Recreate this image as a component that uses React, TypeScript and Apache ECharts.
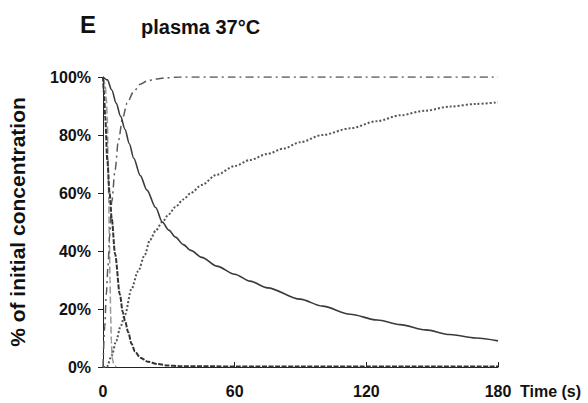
import React, { useEffect, useRef } from "react";
import * as echarts from "echarts";

// Time (s) and % of initial concentration
const fastDecayT = [0, 0.5, 1, 1.5, 2, 2.3, 2.6, 2.9, 3.2, 3.5, 3.8, 4.2, 5, 6];
const fastDecayV = [100, 99, 97, 93, 85, 72, 58, 44, 30, 18, 9, 3, 0.8, 0];

const midDecayT = [0, 0.5, 1, 2, 3, 4, 5.5, 7.7, 9, 10, 11.5, 13, 14.6, 17, 20.6, 25, 29.6, 35, 60, 90, 120, 150, 180];
const midDecayV = [100, 94, 86, 71, 60, 51, 39, 25, 19, 16, 12, 8, 5.3, 3.2, 1.8, 1, 0.5, 0.3, 0.2, 0.2, 0.2, 0.2, 0.2];

const fastRiseT = [0, 0.8, 1.5, 2.3, 3, 4, 5.5, 7, 9, 11, 14, 17, 20, 24, 28, 35, 60, 90, 120, 150, 180];
const fastRiseV = [0, 14, 25, 35, 45, 57, 68, 78, 86, 91, 95, 97.5, 98.6, 99.3, 99.7, 100, 100, 100, 100, 100, 100];

const slowDecayT = [0, 2, 4, 6, 8, 10, 12, 14, 17, 20, 24, 27, 30, 33, 36.6, 40, 45, 51.8, 60, 67, 75, 89.8, 100, 112.6, 125, 135.4, 147, 158, 170, 180];
const slowDecayV = [100, 99, 95.5, 91, 86.5, 82, 77, 72, 66, 61, 55, 50, 47.2, 44.8, 42.2, 40.2, 37.8, 34.8, 32, 29.6, 27.3, 23.4, 21, 18.2, 16.2, 14.6, 12.8, 11.2, 10, 9];

const slowRiseT = [0, 1.7, 4, 6, 8, 10, 13, 16, 19, 21.4, 24, 27, 30, 33, 36.6, 40, 45, 51.8, 60, 67, 75, 82.2, 89.8, 100, 112.6, 125, 135.4, 147, 158, 170, 180];
const slowRiseV = [0, 0, 4, 9, 14, 18, 27, 33, 38.6, 43.8, 47, 50, 52.7, 55.2, 57.8, 60, 62.8, 66.3, 69.3, 71.4, 73.5, 75.3, 77.5, 80, 82.3, 84.8, 86.8, 88.4, 89.8, 90.7, 91.3];

const xTicks = [0, 60, 120, 180];
const yTicks = [0, 20, 40, 60, 80, 100];

const pairs = (t: number[], v: number[]) => t.map((x, i) => [x, v[i]]);

export default function App() {
  const ref = useRef<HTMLDivElement>(null);
  useEffect(() => {
    if (!ref.current) return;
    const chart = echarts.init(ref.current, undefined, { renderer: "svg" });
    const font = "'Liberation Sans', Arial, sans-serif";
    const line = (name: string, data: number[][], color: string, width: number, type: any, z = 2) => ({
      name,
      type: "line",
      data,
      showSymbol: false,
      smooth: 0.3,
      smoothMonotone: "x",
      z,
      lineStyle: { color, width, type },
    });
    chart.setOption({
      animation: false,
      backgroundColor: "#ffffff",
      grid: { left: 103, right: 90, top: 77, bottom: 36, containLabel: false, outerBoundsMode: "none" },
      xAxis: {
        type: "value",
        min: xTicks[0],
        max: xTicks[xTicks.length - 1],
        interval: 60,
        name: "Time (s)",
        nameLocation: "end",
        nameGap: 22,
        nameTextStyle: {
          fontFamily: font,
          fontWeight: "bold",
          fontSize: 16,
          color: "#111",
          verticalAlign: "top",
          padding: [16, 0, 0, 0],
        },
        axisLine: { lineStyle: { color: "#222", width: 1 } },
        axisTick: { inside: true, length: 5, lineStyle: { color: "#222" } },
        splitLine: { show: false },
        axisLabel: {
          margin: 16,
          fontFamily: font,
          fontWeight: "bold",
          fontSize: 16,
          color: "#111",
        },
      },
      yAxis: {
        type: "value",
        min: yTicks[0],
        max: yTicks[yTicks.length - 1],
        interval: 20,
        name: "% of initial concentration",
        nameLocation: "middle",
        nameRotate: 90,
        nameGap: 75,
        nameTextStyle: {
          fontFamily: font,
          fontWeight: "bold",
          fontSize: 21,
          color: "#111",
        },
        axisLine: { show: true, lineStyle: { color: "#222", width: 1 } },
        axisTick: { show: true, length: 5, lineStyle: { color: "#222" } },
        splitLine: { show: false },
        axisLabel: {
          margin: 12,
          formatter: "{value}%",
          fontFamily: font,
          fontWeight: "bold",
          fontSize: 16,
          color: "#111",
        },
      },
      graphic: [
        {
          type: "text",
          left: 80,
          top: 12,
          style: { text: "E", font: `bold 24px ${font}`, fill: "#111" },
        },
        {
          type: "text",
          left: 141,
          top: 17,
          style: { text: "plasma 37°C", font: `bold 20px ${font}`, fill: "#111" },
        },
      ],
      series: [
        line("fast decay", pairs(fastDecayT, fastDecayV), "#999999", 1.5, [7, 3]),
        line("intermediate decay", pairs(midDecayT, midDecayV), "#333333", 2, [5, 1.5], 3),
        line("fast formation", pairs(fastRiseT, fastRiseV), "#5a5a5a", 1.5, [8, 4, 2, 4]),
        line("slow decay", pairs(slowDecayT, slowDecayV), "#3a3a3a", 1.6, "solid", 4),
        line("slow formation", pairs(slowRiseT, slowRiseV), "#555555", 2, [2, 2]),
      ],
    });
    return () => chart.dispose();
  }, []);
  return <div ref={ref} style={{ width: 588, height: 403, position: "absolute", left: 0, top: 0 }} />;
}
